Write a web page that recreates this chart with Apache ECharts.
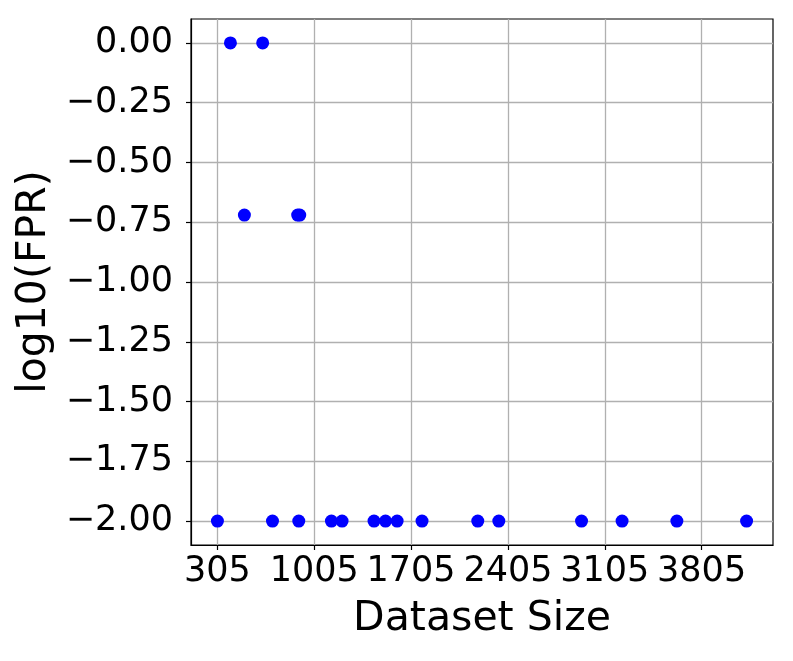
<!DOCTYPE html>
<html>
<head>
<meta charset="utf-8">
<script src="https://cdn.jsdelivr.net/npm/echarts@6/dist/echarts.min.js"></script>
<style>
html,body{margin:0;padding:0;background:#fff;}
#chart{width:793px;height:661px;}
</style>
</head>
<body>
<div id="chart"></div>
<script>
// Data
const datasetSize = [399, 632, 500, 885, 900, 305, 703, 893, 1129, 1206, 1437, 1520, 1604, 1784, 2187, 2339, 2937, 3230, 3626, 4130];
const log10FPR    = [0, 0, -0.72, -0.72, -0.72, -2, -2, -2, -2, -2, -2, -2, -2, -2, -2, -2, -2, -2, -2, -2];
const xTicks = [305, 1005, 1705, 2405, 3105, 3805];
const yTicks = [0, -0.25, -0.5, -0.75, -1, -1.25, -1.5, -1.75, -2];

const points = datasetSize.map((x, i) => [x, log10FPR[i]]);
const FONT = 'DejaVu Sans';

const chart = echarts.init(document.getElementById('chart'), null, {renderer: 'canvas'});
chart.setOption({
  animation: false,
  backgroundColor: '#ffffff',
  grid: {left: 191, top: 19, right: 20, bottom: 116, show: true, borderColor: '#000', borderWidth: 1.2, backgroundColor: 'transparent'},
  xAxis: {
    type: 'value', min: 114, max: 4321,
    name: 'Dataset Size', nameLocation: 'middle', nameGap: 54,
    nameTextStyle: {fontFamily: FONT, fontSize: 41, color: '#000'},
    axisLine: {show: true, onZero: false, lineStyle: {color: '#000', width: 1.2}},
    axisTick: {show: true, length: 5, inside: false, customValues: xTicks, lineStyle: {color: '#000', width: 1.2}},
    axisLabel: {customValues: xTicks, margin: 9, fontFamily: FONT, fontSize: 35, color: '#000', formatter: v => String(v)},
    splitLine: {show: true, lineStyle: {color: '#b0b0b0', width: 1.3}}
  },
  yAxis: {
    type: 'value', min: -2.1, max: 0.1,
    name: 'log10(FPR)', nameLocation: 'middle', nameGap: 128, nameRotate: 90,
    nameTextStyle: {fontFamily: FONT, fontSize: 41, color: '#000'},
    axisLine: {show: true, onZero: false, lineStyle: {color: '#000', width: 1.2}},
    axisTick: {show: true, length: 5, inside: false, customValues: yTicks, lineStyle: {color: '#000', width: 1.2}},
    axisLabel: {customValues: yTicks, margin: 18, fontFamily: FONT, fontSize: 35, color: '#000',
      formatter: v => (v < 0 ? '\u2212' : '') + Math.abs(v).toFixed(2)},
    splitLine: {show: true, lineStyle: {color: '#b0b0b0', width: 1.3}}
  },
  series: [{
    type: 'scatter',
    data: points,
    symbol: 'circle',
    symbolSize: 13,
    itemStyle: {color: '#0000ff', opacity: 1}
  }]
});
</script>
</body>
</html>
